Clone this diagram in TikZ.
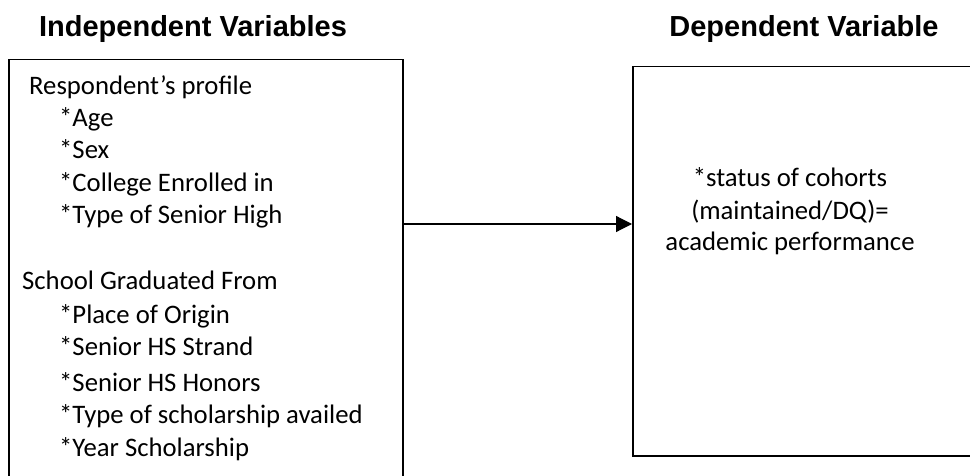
\documentclass[tikz,border=0pt]{standalone}
\usepackage{fontspec}
\setmainfont{Carlito}
\newfontfamily\headfont{Liberation Sans}
\usetikzlibrary{arrows.meta,positioning}

\tikzset{
  varbox/.style={draw,line width=1.5pt,inner sep=0pt,anchor=north west},
  vartitle/.style={font=\headfont\bfseries\fontsize{29}{34}\selectfont,anchor=base,inner sep=0pt},
  item/.style={font=\fontsize{26.7}{31}\selectfont,anchor=base west,inner sep=0pt},
  outcome/.style={font=\fontsize{26.7}{31}\selectfont,anchor=base,inner sep=0pt},
}

\begin{document}
\begin{tikzpicture}[x=1pt,y=-1pt]
      \clip (0,0) rectangle (970,476);
      \node[vartitle] (indeptitle) at (193,37) {Independent Variables};
      \node[vartitle] (deptitle) at (804,37) {Dependent Variable};
      \node[varbox,minimum width=394pt,minimum height=440pt] (indep) at (8,59) {};
      \node[varbox,minimum width=400pt,minimum height=389pt] (dep) at (632,66) {};
      % respondent's profile
      \node[item] (profile) at (29,95) {Respondent’s profile};
      \foreach \y/\txt [count=\i] in {127/Age,159/Sex,192/College Enrolled in,224/Type of Senior High}
        \node[item] (prof\i) at (59,\y) {*\txt};
      % school graduated from
      \node[item] (school) at (22,289) {School Graduated From};
      \foreach \y/\txt [count=\i] in {323/Place of Origin,355/Senior HS Strand,391/Senior HS Honors,423/Type of scholarship availed,456/Year Scholarship}
        \node[item] (sch\i) at (59,\y) {*\txt};
      % dependent variable
      \foreach \y/\txt [count=\i] in {187/{*status of cohorts},219/{(maintained/DQ)=},251/{academic performance}}
        \node[outcome] (status\i) at (790,\y) {\txt};
      \coordinate (arrowy) at (0,224);
      \draw[-{Triangle[length=16pt,width=16pt]},line width=1.2pt] (indep.east |- arrowy) -- (dep.west |- arrowy);
\end{tikzpicture}
\end{document}
